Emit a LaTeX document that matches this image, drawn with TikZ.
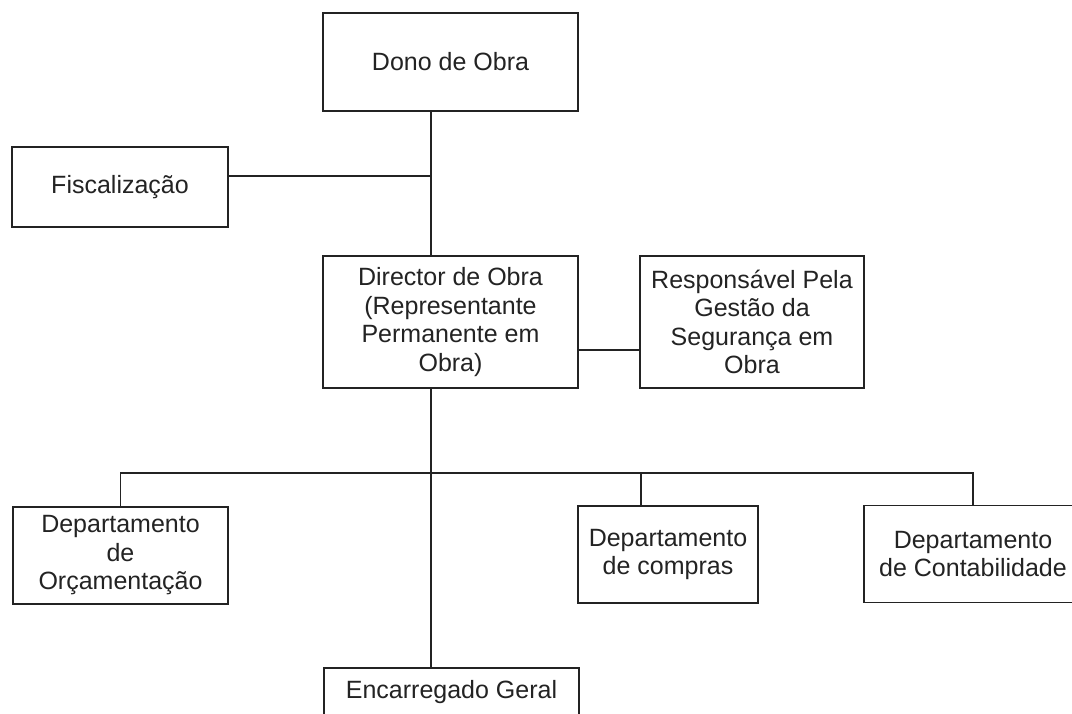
\documentclass[tikz,border=0pt]{standalone}
\usepackage{fontspec}
\setmainfont{Liberation Sans}
\definecolor{ink}{RGB}{35,35,35}
\begin{document}
\begin{tikzpicture}[x=0.75pt,y=-0.75pt,
  box/.style={draw=ink, line width=1.3pt, inner sep=0pt, align=center, text=ink,
    font=\fontsize{18.75}{21.4}\selectfont},
  link/.style={draw=ink, line width=1.3pt}]
\fill[white] (0,0) rectangle (1072,714);
\useasboundingbox (0,0) rectangle (1072,714);

\node[box, minimum width=191.25pt, minimum height=73.5pt] (dono) at (450.5,62) {Dono de Obra};
\node[box, minimum width=162pt, minimum height=60pt] (fisc) at (120,187) {Fiscalização};
\node[box, minimum width=191.25pt, minimum height=99pt] (dir) at (450.5,322)
  {Director de Obra\\(Representante\\Permanente em\\Obra)};
\node[box, minimum width=168pt, minimum height=99pt] (resp) at (752,322)
  {Responsável Pela\\Gestão da\\Segurança em\\Obra};
\node[box, minimum width=161.25pt, minimum height=72.75pt] (orc) at (120.5,555.5)
  {Departamento\\de\\Orçamentação};
\node[box, minimum width=135pt, minimum height=72.75pt] (comp) at (668,554.5)
  {Departamento\\de compras};
\node[box, minimum width=163.5pt, minimum height=72.75pt] (cont) at (973,554)
  {Departamento\\de Contabilidade};
\node[box, minimum width=191.25pt, minimum height=36pt] (enc) at (451.5,692) {Encarregado Geral};

\coordinate (spine) at (431,0);
\coordinate (fj) at (228,176);
\coordinate (rj) at (640,350);
\coordinate (bus) at (431,473);
\coordinate (cdrop) at (641,506);

\draw[link] (dono.south -| spine) -- (dir.north -| spine);
\draw[link] (fj) -- (fj -| spine);
\draw[link] (rj -| dir.east) -- (rj);
\draw[link] (dir.south -| spine) -- (enc.north -| spine);
\draw[link] (orc.north) |- (bus) -| (cont.north);
\draw[link] (bus -| cdrop) -- (cdrop);
\end{tikzpicture}
\end{document}
